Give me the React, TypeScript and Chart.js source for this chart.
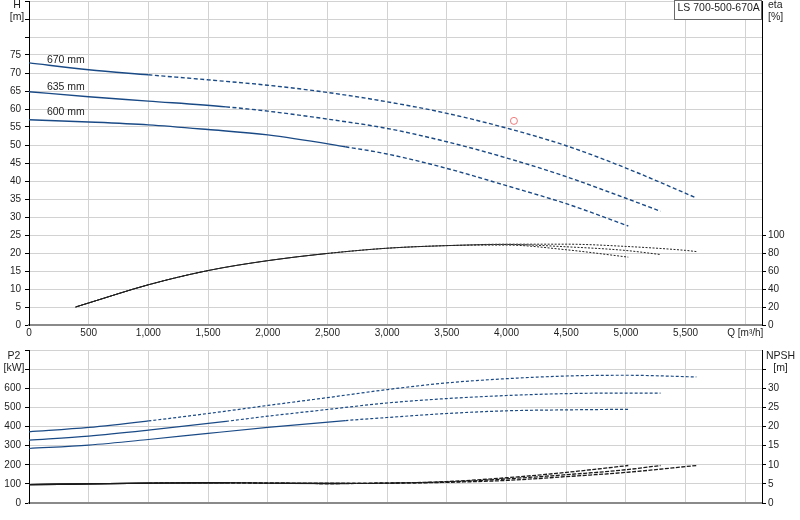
import { useEffect, useRef } from 'react';
import { Chart, registerables } from 'chart.js';

Chart.register(...registerables);

// axis ticks
const qTicks = [0, 500, 1000, 1500, 2000, 2500, 3000, 3500, 4000, 4500, 5000, 5500, 6000];
const hTicks = [0, 5, 10, 15, 20, 25, 30, 35, 40, 45, 50, 55, 60, 65, 70, 75, 80, 85, 90];
const etaTicks = [0, 20, 40, 60, 80, 100];
const p2Ticks = [0, 100, 200, 300, 400, 500, 600, 700, 800];
const npshTicks = [0, 5, 10, 15, 20, 25, 30, 35];

const Q_MAX = 6140;
const MODEL = 'LS 700-500-670A';

// 670 mm impeller
const q670 = [0, 500, 1000, 1500, 2000, 2500, 3000, 3500, 4000, 4500, 5000, 5590];
const h670 = [72.8, 70.9, 69.5, 68.1, 66.6, 64.6, 62.0, 58.8, 54.7, 49.8, 43.6, 35.3];
const p670 = [372, 395, 429, 468, 510, 551, 593, 628, 650, 664, 668, 659];
const n670 = [4.8, 5.0, 5.2, 5.3, 5.2, 5.1, 5.2, 5.4, 5.9, 6.9, 8.0, 9.8];
const etaQ670 = [390, 500, 1000, 1500, 2000, 2500, 3000, 3500, 4000, 4500, 5000, 5500, 5590];
const eta670 = [20, 24.5, 44.7, 60.5, 71.5, 79.5, 85.3, 88.2, 89.8, 89.8, 87.3, 82.9, 81.6];

// 635 mm impeller
const q635 = [0, 500, 1000, 1650, 2000, 2500, 3000, 3500, 4000, 4500, 5000, 5290];
const h635 = [64.8, 63.4, 62.2, 60.6, 59.4, 57.2, 54.6, 50.9, 46.4, 41.2, 35.2, 31.6];
const p635 = [329, 350, 381, 427, 454, 489, 523, 546, 562, 572, 575, 574];
const n635 = [4.8, 5.0, 5.2, 5.3, 5.2, 5.1, 5.2, 5.5, 6.3, 7.4, 8.7, 9.8];
const etaQ635 = [390, 500, 1000, 1500, 2000, 2500, 3000, 3500, 4000, 4500, 5000, 5290];
const eta635 = [20, 24.5, 44.7, 60.5, 71.5, 79.5, 85.3, 88.2, 89.5, 86.9, 82.8, 78.3];

// 600 mm impeller
const q600 = [0, 500, 1000, 1500, 2000, 2650, 3000, 3500, 4000, 4500, 5020];
const h600 = [57.0, 56.4, 55.6, 54.3, 52.8, 49.5, 47.5, 43.5, 38.7, 33.7, 27.5];
const p600 = [285, 303, 332, 364, 395, 431, 447, 468, 482, 487, 490];
const n600 = [4.8, 5.0, 5.2, 5.3, 5.2, 5.1, 5.2, 5.6, 6.6, 8.0, 9.8];
const etaQ600 = [390, 500, 1000, 1500, 2000, 2500, 3000, 3500, 4000, 4500, 5020];
const eta600 = [20, 24.5, 44.7, 60.5, 71.5, 79.5, 85.3, 88.2, 88.8, 83.6, 75.4];

// duty point
const dutyQ = [4062];
const dutyH = [56.7];

const curves = [
  { label: '670 mm', q: q670, h: h670, p2: p670, npsh: n670, etaQ: etaQ670, eta: eta670, solidTo: 1000, etaSolidTo: 1000 },
  { label: '635 mm', q: q635, h: h635, p2: p635, npsh: n635, etaQ: etaQ635, eta: eta635, solidTo: 1650, etaSolidTo: 1500 },
  { label: '600 mm', q: q600, h: h600, p2: p600, npsh: n600, etaQ: etaQ600, eta: eta600, solidTo: 2650, etaSolidTo: 2500 },
];

const BLUE = '#1a4a86';
const GRID = '#d2d2d2';
const TXT = '#1e1e1e';
const FONT = '"Liberation Sans", Arial, sans-serif';

Chart.defaults.font.family = FONT;
Chart.defaults.font.size = 10;

const pts = (xs: number[], ys: number[]) => xs.map((x, i) => ({ x, y: ys[i] }));

const lineSet = (data: any[], axis: string, color: string, width: number, dash: number[], solidTo: number) => ({
  type: 'line',
  data,
  yAxisID: axis,
  borderColor: color,
  borderWidth: width,
  pointRadius: 0,
  fill: false,
  cubicInterpolationMode: 'monotone',
  segment: { borderDash: (ctx: any) => (ctx.p0.parsed.x >= solidTo ? dash : []) },
});

const setTicks = (list: number[]) => (s: any) => {
  s.ticks = list.map((value) => ({ value }));
};

const yAxis = (pos: string, max: number, list: number[], showTo: number, width: number, grid: boolean) => ({
  type: 'linear',
  position: pos,
  min: 0,
  max,
  afterBuildTicks: setTicks(list),
  afterFit: (s: any) => {
    s.width = width;
    // no extra room for the end labels, the plot runs to the edges
    s.paddingTop = 0;
    s.paddingBottom = 0;
  },
  grid: { color: GRID, drawOnChartArea: grid, tickLength: 4, tickColor: '#000' },
  border: { color: '#000', width: 1 },
  ticks: {
    color: TXT,
    padding: pos === 'left' ? 4 : 2,
    autoSkip: false,
    callback: (v: any) => (v <= showTo ? String(v) : ''),
  },
});

const xAxis = (labels: boolean, height: number) => ({
  type: 'linear',
  min: 0,
  max: Q_MAX,
  afterBuildTicks: setTicks(qTicks),
  afterFit: (s: any) => {
    s.height = height;
  },
  grid: { color: GRID, drawTicks: false },
  border: { color: '#8a8a8a', width: 2 },
  ticks: {
    display: labels,
    color: TXT,
    padding: 2,
    autoSkip: false,
    maxRotation: 0,
    callback: (v: any) => (v === 6000 ? 'Q [m³/h]' : Number(v).toLocaleString('en-US')),
  },
});

const titles = (left: string[], right: string[], leftDx: number, rightDx: number, dy: number) => ({
  id: 'titles',
  afterDraw(chart: any) {
    const { ctx, chartArea } = chart;
    ctx.save();
    ctx.font = `10.5px ${FONT}`;
    ctx.fillStyle = TXT;
    ctx.textBaseline = 'middle';
    ctx.textAlign = 'center';
    ctx.fillText(left[0], chartArea.left - leftDx, chartArea.top + dy);
    ctx.fillText(left[1], chartArea.left - leftDx, chartArea.top + dy + 12);
    ctx.textAlign = rightDx > 10 ? 'center' : 'left';
    ctx.fillText(right[0], chartArea.right + rightDx, chartArea.top + dy);
    ctx.fillText(right[1], chartArea.right + rightDx, chartArea.top + dy + 12);
    ctx.restore();
  },
});

const topExtras = {
  id: 'topExtras',
  afterDraw(chart: any) {
    const { ctx, chartArea, scales } = chart;
    ctx.save();
    ctx.font = `10.5px ${FONT}`;
    ctx.fillStyle = TXT;
    ctx.textBaseline = 'middle';
    ctx.textAlign = 'left';
    curves.forEach((c) => {
      const y = scales.h.getPixelForValue(c.h[1]) - 10;
      ctx.fillText(c.label, scales.x.getPixelForValue(150), y);
    });
    // model box
    const bx = Math.round(chartArea.right) - 87.5;
    const by = Math.round(chartArea.top) - 0.5;
    ctx.fillStyle = '#fff';
    ctx.fillRect(bx, by, 87, 19);
    ctx.strokeStyle = '#6a6a6a';
    ctx.lineWidth = 1;
    ctx.strokeRect(bx, by, 87, 19);
    ctx.fillStyle = TXT;
    ctx.fillText(MODEL, bx + 3, by + 8);
    ctx.restore();
  },
};

const baseOptions = {
  responsive: true,
  maintainAspectRatio: false,
  animation: false,
  events: [],
  plugins: { legend: { display: false }, tooltip: { enabled: false } },
};

const App = () => {
  const topRef = useRef<HTMLCanvasElement>(null);
  const botRef = useRef<HTMLCanvasElement>(null);

  useEffect(() => {
    const topCtx = topRef.current?.getContext('2d');
    const botCtx = botRef.current?.getContext('2d');
    if (!topCtx || !botCtx) return;

    const topSets: any[] = [];
    curves.forEach((c) => {
      topSets.push(lineSet(pts(c.q, c.h), 'h', BLUE, 1.4, [4, 2.5], c.solidTo));
      topSets.push(lineSet(pts(c.etaQ, c.eta), 'eta', '#222', 1, [2, 1.5], c.etaSolidTo));
    });
    topSets.push({
      type: 'scatter',
      data: pts(dutyQ, dutyH),
      yAxisID: 'h',
      pointRadius: 3.5,
      pointBorderWidth: 1,
      pointBorderColor: '#f07878',
      pointBackgroundColor: 'rgba(0,0,0,0)',
    });

    const botSets: any[] = [];
    curves.forEach((c) => {
      botSets.push(lineSet(pts(c.q, c.p2), 'p2', BLUE, 1.2, [3, 2], c.solidTo));
      botSets.push(lineSet(pts(c.q, c.npsh), 'npsh', '#1a1a1a', 1.3, [4, 1.5], c.solidTo));
    });

    const top = new Chart(topCtx, {
      type: 'line',
      data: { datasets: topSets },
      options: {
        ...baseOptions,
        layout: { padding: { top: 1 }, autoPadding: false },
        scales: {
          x: xAxis(true, 20),
          h: yAxis('left', 90, hTicks, 75, 29, true),
          eta: yAxis('right', 360, etaTicks, 100, 38, false),
        },
      } as any,
      plugins: [titles(['H', '[m]'], ['eta', '[%]'], 12, 6, 4), topExtras],
    } as any);

    const bottom = new Chart(botCtx, {
      type: 'line',
      data: { datasets: botSets },
      options: {
        ...baseOptions,
        layout: { padding: { top: 5 }, autoPadding: false },
        scales: {
          x: xAxis(false, 17),
          p2: yAxis('left', 800, p2Ticks, 600, 29, true),
          npsh: yAxis('right', 40, npshTicks, 30, 38, false),
        },
      } as any,
      plugins: [titles(['P2', '[kW]'], ['NPSH', '[m]'], 15, 18.5, 6)],
    } as any);

    return () => {
      top.destroy();
      bottom.destroy();
    };
  }, []);

  return (
    <div style={{ position: 'fixed', left: 0, top: 0, width: 800, height: 520, background: '#fff' }}>
      <div style={{ position: 'absolute', left: 0, top: 0, width: 800, height: 345 }}>
        <canvas ref={topRef} />
      </div>
      <div style={{ position: 'absolute', left: 0, top: 345, width: 800, height: 175 }}>
        <canvas ref={botRef} />
      </div>
    </div>
  );
};

export default App;
